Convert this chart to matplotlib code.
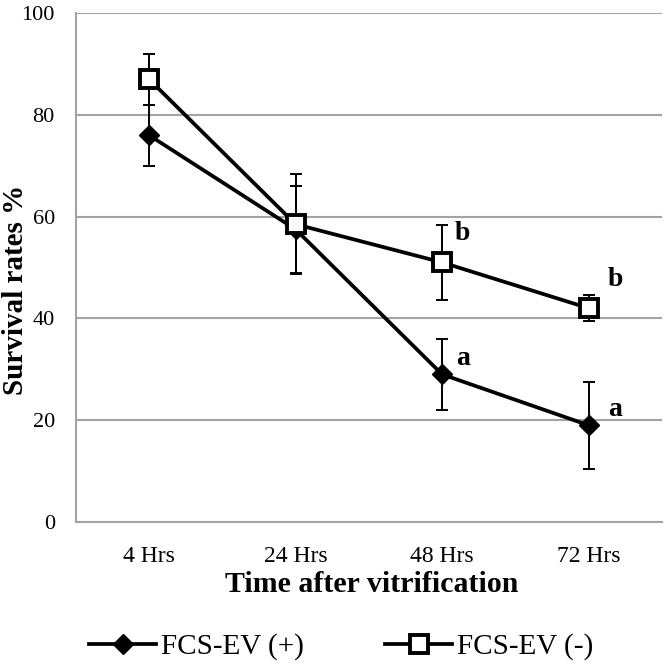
import numpy as np
import matplotlib.pyplot as plt

# --- Data ---
times = ["4 Hrs", "24 Hrs", "48 Hrs", "72 Hrs"]
pos_mean = [76, 57.5, 29, 19]
pos_err = [6, 8.5, 7, 8.5]
neg_mean = [87, 58.5, 51, 42]
neg_err = [5, 9.8, 7.3, 2.5]
pos_letters = ["", "", "a", "a"]
neg_letters = ["", "", "b", "b"]

plt.rcParams['font.family'] = ['Liberation Serif', 'DejaVu Serif']

W, H = 666, 667
fig = plt.figure(figsize=(W / 100, H / 100), dpi=100)
ax = fig.add_axes([75.7 / W, 1 - 522 / H, (662 - 75.7) / W, (522 - 13) / H])

x = np.arange(len(times))
grid_c = '#A3A3A3'

eb = dict(fmt='none', ecolor='black', elinewidth=1.4, capsize=4.5, capthick=1.4, zorder=3)
ax.errorbar(x, pos_mean, yerr=pos_err, **eb)
ax.errorbar(x, neg_mean, yerr=neg_err, **eb)
ax.plot(x, pos_mean, color='black', lw=2.7, marker='D', ms=10.5,
        mfc='black', mec='black', label='FCS-EV (+)', zorder=4)
ax.plot(x, neg_mean, color='black', lw=2.7, marker='s', ms=13.5,
        mfc='white', mec='black', mew=2.8, label='FCS-EV (-)', zorder=5)

# significance letters (a / b)
for i in range(len(times)):
    dx = 0.14 if i < 3 else 0.18
    if pos_letters[i]:
        ax.text(x[i] + dx, pos_mean[i] + 3.2, pos_letters[i], fontsize=20,
                fontweight='bold', ha='center', va='center')
    if neg_letters[i]:
        ax.text(x[i] + dx, neg_mean[i] + 5.6, neg_letters[i], fontsize=20,
                fontweight='bold', ha='center', va='center')

ax.set_xlim(-0.5, len(times) - 0.5)
ax.set_ylim(0, 100)
ax.set_yticks(range(0, 101, 20))
ax.set_xticks(x)
ax.set_xticklabels(times)
ax.tick_params(length=0)
ax.tick_params(axis='x', labelsize=17, pad=17)
ax.tick_params(axis='y', labelsize=16, pad=15)
ax.yaxis.grid(True, color=grid_c, lw=1.5)
ax.set_axisbelow(True)
for s in ['top', 'right']:
    ax.spines[s].set_visible(False)
for s in ['left', 'bottom']:
    ax.spines[s].set_color(grid_c)
    ax.spines[s].set_linewidth(1.5)

fig.text(16 / W, 1 - 290 / H, "Survival rates %", fontsize=21, fontweight='bold',
         rotation=90, ha='center', va='center')
fig.text(372 / W, 1 - 585 / H, "Time after vitrification", fontsize=21.5,
         fontweight='bold', ha='center', va='center')

fig.legend(loc='center', bbox_to_anchor=(341 / W, 1 - 647 / H), ncol=2, frameon=False,
           fontsize=21, handlelength=2.3, columnspacing=2.8, handletextpad=0.15)

fig.savefig("out.png", dpi=100)
